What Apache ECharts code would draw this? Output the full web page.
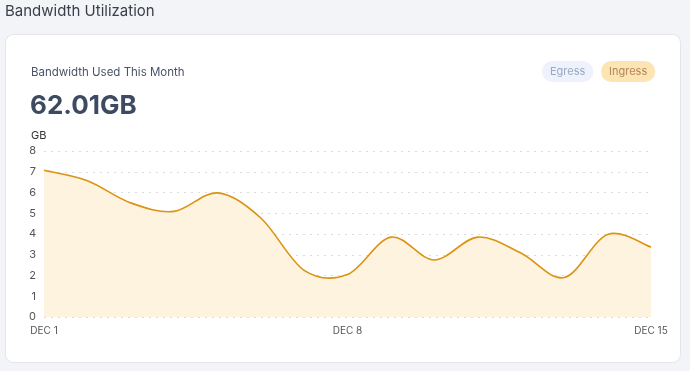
<!DOCTYPE html>
<html>
<head>
<meta charset="utf-8">
<script src="https://cdn.jsdelivr.net/npm/echarts@6/dist/echarts.min.js"></script>
<style>
html,body{margin:0;padding:0;background:#f3f4f8;}
#chart{width:690px;height:371px;}
</style>
</head>
<body>
<div id="chart"></div>
<script>
const days = ['DEC 1','DEC 2','DEC 3','DEC 4','DEC 5','DEC 6','DEC 7','DEC 8','DEC 9','DEC 10','DEC 11','DEC 12','DEC 13','DEC 14','DEC 15'];
const ingress = [7.07, 6.57, 5.5, 5.09, 5.98, 4.77, 2.25, 2.05, 3.85, 2.75, 3.85, 3.08, 1.9, 3.98, 3.37];
const yTicks = [0, 8, 1];
const totalLabel = '62.01GB';

const chart = echarts.init(document.getElementById('chart'), null, {renderer: 'canvas'});
const font = 'Inter, "Noto Sans", sans-serif';

// Catmull-Rom spline through the data points, positioned by the chart's own axes
function splinePath(pts) {
  let d = 'M' + pts[0][0] + ' ' + pts[0][1];
  for (let i = 0; i < pts.length - 1; i++) {
    const p0 = pts[Math.max(0, i - 1)], p1 = pts[i], p2 = pts[i + 1], p3 = pts[Math.min(pts.length - 1, i + 2)];
    const c1x = p1[0] + (p2[0] - p0[0]) / 6, c1y = p1[1] + (p2[1] - p0[1]) / 6;
    const c2x = p2[0] - (p3[0] - p1[0]) / 6, c2y = p2[1] - (p3[1] - p1[1]) / 6;
    d += ' C' + c1x + ' ' + c1y + ' ' + c2x + ' ' + c2y + ' ' + p2[0] + ' ' + p2[1];
  }
  return d;
}

chart.setOption({
  backgroundColor: '#f3f4f8',
  animation: false,
  graphic: [{
    type: 'rect', left: 5, top: 34, z: -10,
    shape: {width: 675, height: 328, r: 8},
    style: {fill: '#ffffff', stroke: '#e3e5ea', lineWidth: 1}
  }],
  title: [
    {text: 'Bandwidth Utilization', left: 0, top: -1, textStyle: {fontFamily: font, fontSize: 15, fontWeight: 'normal', color: '#3a3f4a'}},
    {text: 'Bandwidth Used This Month', left: 26, top: 62, textStyle: {fontFamily: font, fontSize: 11.5, fontWeight: 'normal', color: '#4a5468'}},
    {text: totalLabel, left: 25, top: 88, textStyle: {fontFamily: font, fontSize: 26, fontWeight: 'bold', color: '#3e4a61'}},
    {text: 'Egress', left: 542, top: 61, padding: [5, 8, 5, 8], borderRadius: 11, backgroundColor: '#edf2fc',
      textStyle: {fontFamily: font, fontSize: 11, fontWeight: 'normal', color: '#9aa8c4', lineHeight: 11}},
    {text: 'Ingress', left: 601, top: 61, padding: [5, 8, 5, 8], borderRadius: 11, backgroundColor: '#fde4b3',
      textStyle: {fontFamily: font, fontSize: 11, fontWeight: 'normal', color: '#b2865a', lineHeight: 11}}
  ],
  grid: {left: 44, right: 39, top: 151, bottom: 54, containLabel: false},
  xAxis: {
    type: 'category', data: days, boundaryGap: false,
    axisLine: {show: false}, axisTick: {show: false},
    axisLabel: {interval: 6, color: '#555', fontSize: 10, fontFamily: font, margin: 9},
    splitLine: {show: false}
  },
  yAxis: {
    type: 'value', min: yTicks[0], max: yTicks[1], interval: yTicks[2],
    name: 'GB', nameLocation: 'end', nameGap: 10,
    nameTextStyle: {color: '#333', fontSize: 11, fontFamily: font, align: 'left', padding: [0, 0, 0, -13]},
    axisLine: {show: false}, axisTick: {show: false},
    axisLabel: {color: '#555', fontSize: 11, fontFamily: font, margin: 8},
    splitLine: {show: true, lineStyle: {type: [2, 5], color: '#dcdcdc', width: 1}}
  },
  series: [{
    name: 'Ingress', type: 'custom', coordinateSystem: 'cartesian2d',
    data: [[0, 0]],
    encode: {x: 0, y: 1},
    renderItem: function (params, api) {
      const pts = ingress.map((v, i) => api.coord([i, v]));
      const base0 = api.coord([0, 0]);
      const baseN = api.coord([ingress.length - 1, 0]);
      const line = splinePath(pts);
      const area = line + ' L' + baseN[0] + ' ' + baseN[1] + ' L' + base0[0] + ' ' + base0[1] + ' Z';
      return {
        type: 'group',
        children: [
          {type: 'path', shape: {pathData: area}, style: {fill: '#fef3de', stroke: null}},
          {type: 'path', shape: {pathData: line}, style: {fill: null, stroke: '#dc9213', lineWidth: 1.6}}
        ]
      };
    }
  }]
});
</script>
</body>
</html>
